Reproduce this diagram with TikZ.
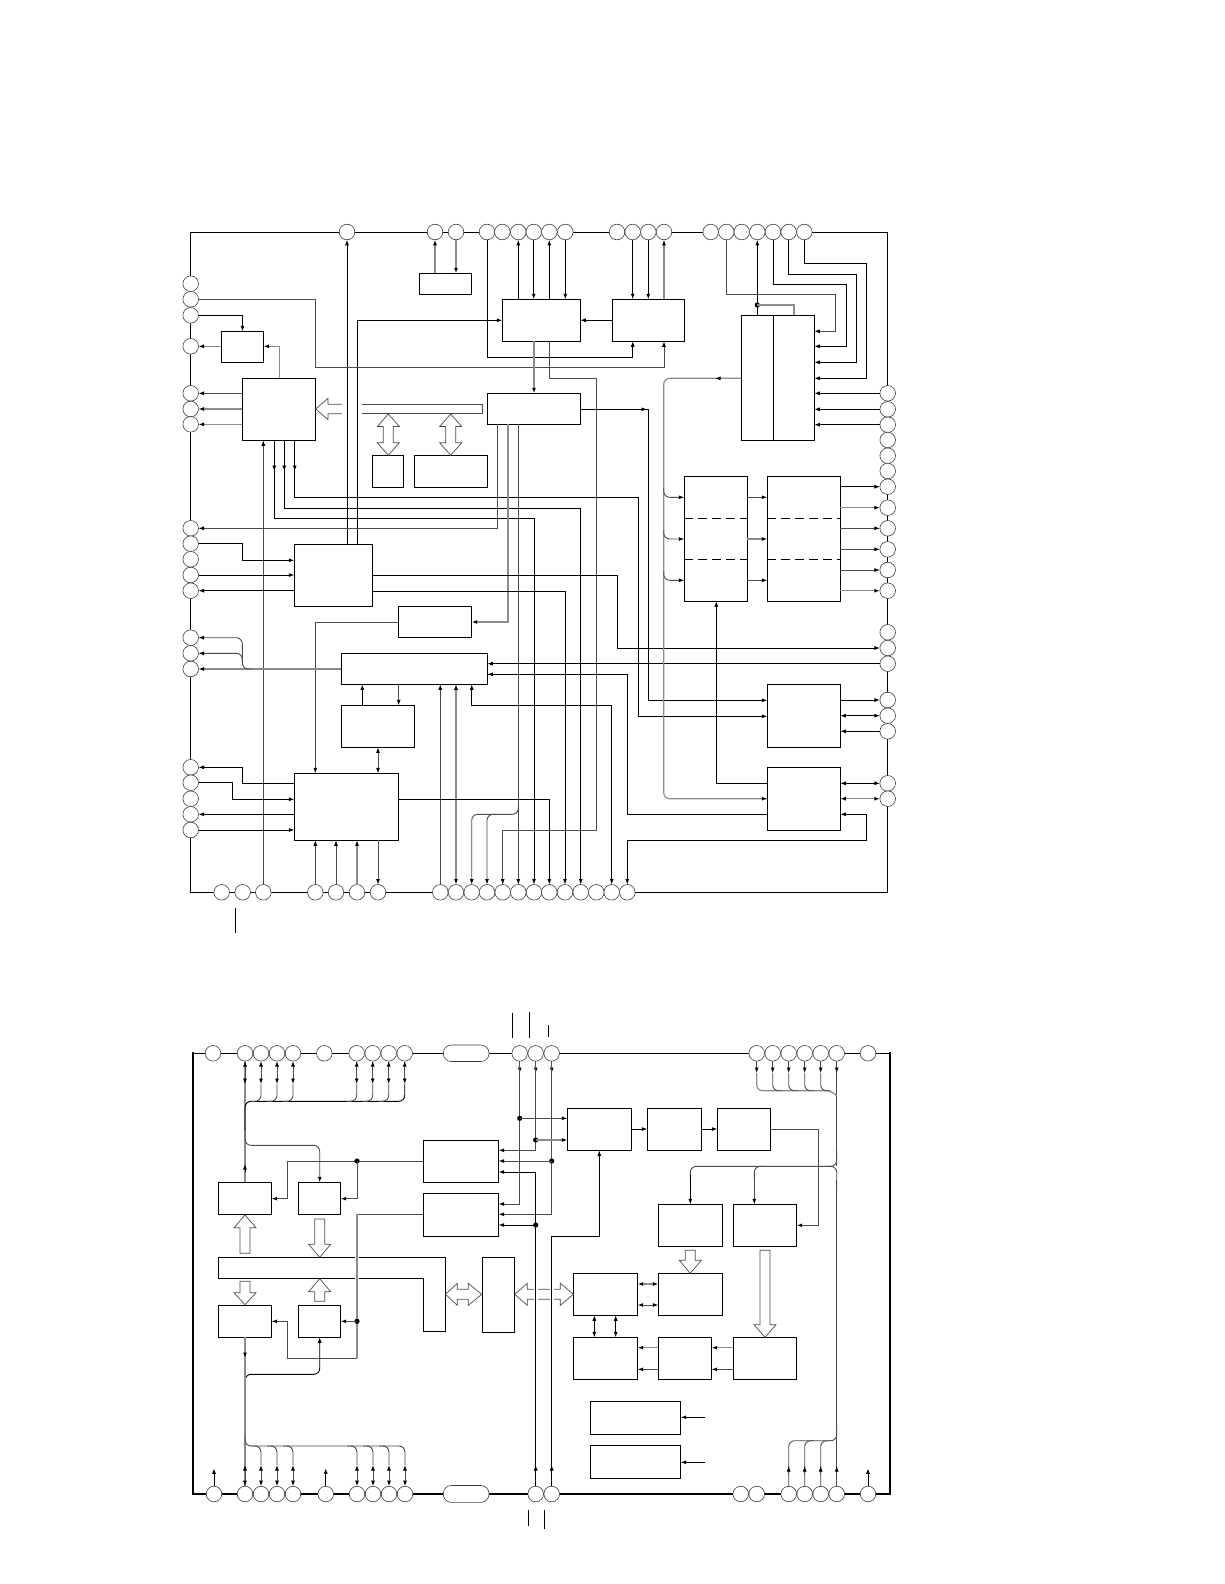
\documentclass[tikz,border=0pt]{standalone}
\usetikzlibrary{arrows.meta}
\tikzset{
  frm/.style={draw=black,line width=1pt},
  frmb/.style={draw=black,line width=2.2pt},
  pinc/.style={circle,draw=black!75,line width=0.6pt,fill=white,minimum size=15.6pt,inner sep=0pt,outer sep=0pt},
  capsule/.style={rounded corners=8pt,draw=black!75,line width=0.6pt,fill=white},
  box/.style={rectangle,draw=black,line width=0.95pt,fill=white,inner sep=0pt,outer sep=0pt},
  w/.style={draw=black,line width=0.9pt},
  d/.style={draw=black!70,line width=0.9pt},
  g/.style={draw=black!45,line width=1.2pt},
  a/.style={-{Latex[length=5.5pt,width=4pt,color=black]}},
  aa/.style={{Latex[length=5.5pt,width=4pt,color=black]}-{Latex[length=5.5pt,width=4pt,color=black]}},
  rc/.style={rounded corners=6pt},
  blk/.style={draw=black!70,line width=0.7pt,fill=white},
  halo/.style={draw=white,line width=3.6pt},
}
\newcommand{\bx}[5]{%
  \pgfmathsetmacro{\bxw}{#4-#2}\pgfmathsetmacro{\bxh}{#5-#3}%
  \pgfmathsetmacro{\bxx}{(#4+#2)/2}\pgfmathsetmacro{\bxy}{(#5+#3)/2}%
  \node[box,minimum width=\bxw pt,minimum height=\bxh pt] (#1) at (\bxx,\bxy) {};}
% vertical block arrow: x, tail y, head-base y, tip y
\newcommand{\vblk}[4]{\draw[blk] ({#1-5},#2) -- ({#1-5},#3) -- ({#1-11},#3) -- (#1,#4) -- ({#1+11},#3) -- ({#1+5},#3) -- ({#1+5},#2) -- cycle;}
% vertical double block arrow: x, tip1 y, tip2 y
\newcommand{\vdbl}[3]{\draw[blk] (#1,#2) -- ({#1+11},{#2+12.5}) -- ({#1+5},{#2+12.5}) -- ({#1+5},{#3-12.5}) -- ({#1+11},{#3-12.5}) -- (#1,#3) -- ({#1-11},{#3-12.5}) -- ({#1-5},{#3-12.5}) -- ({#1-5},{#2+12.5}) -- ({#1-11},{#2+12.5}) -- cycle;}
\newcommand{\dotj}[2]{\fill[black] (#1,#2) circle (2.6pt);}
\begin{document}
\begin{tikzpicture}[x=1pt,y=-1pt]
\useasboundingbox (0,0) rectangle (1224,1584);
\fill[white] (0,0) rectangle (1224,1584);

%%%%%%%%%% UPPER DIAGRAM %%%%%%%%%%
\draw[frm] (190.7,232) rectangle (887.7,892.3);
\foreach \n/\x in {1/347,2/435,3/456,4/487,5/502.3,6/518.3,7/533.7,8/549.3,9/565.3,10/617,11/632.7,12/648.3,13/664,14/710.7,15/726.3,16/741.7,17/757.3,18/773,19/788.7,20/804.3}
  \node[pinc] (t\n) at (\x,232) {};
\foreach \n/\y in {1/283.7,2/299.3,3/315.3,4/346.3,5/393.3,6/409,7/424.3,8/528.3,9/543.7,10/559.3,11/575,12/590.7,13/637.7,14/653.3,15/669,16/767.3,17/782.7,18/798.7,19/814.3,20/830}
  \node[pinc] (l\n) at (190.7,\y) {};
\foreach \n/\y in {1/393.3,2/409.3,3/424.7,4/440,5/455.7,6/471,7/486.7,8/507.7,9/528.3,10/549.3,11/570,12/590.7,13/632.3,14/648,15/663.7,16/700,17/715.7,18/731.3,19/783.3,20/798.7}
  \node[pinc] (r\n) at (887.7,\y) {};
\foreach \n/\x in {1/221.7,2/242.7,3/263.3,4/315.3,5/336,6/357,7/378,8/440.3,9/456,10/471.7,11/487,12/502.7,13/518.3,14/534,15/549.3,16/565,17/580.7,18/596.3,19/611.7,20/627.3}
  \node[pinc] (b\n) at (\x,892.3) {};

\bx{A}{419.3}{273.3}{471.7}{294.3}
\bx{B}{502.3}{299.3}{580.3}{341.3}
\bx{C}{612.3}{299.3}{684.3}{341.3}
\bx{D}{741.3}{315.3}{814.3}{440.3}
\draw[w] (D.north -| 773.3,0) -- (D.south -| 773.3,0);
\bx{E}{221.3}{331.3}{263.7}{362.7}
\bx{F}{242.3}{378.3}{315.7}{440.3}
\bx{G}{487.3}{393.3}{580.3}{424.3}
\bx{H}{372.3}{455.3}{403.3}{487.3}
\bx{I}{414.3}{455.3}{487.3}{487.3}
\bx{K}{294.3}{544.3}{372.3}{606.3}
\bx{L}{398.3}{606.3}{471.7}{637.3}
\bx{M}{341.3}{653.3}{487.3}{684.3}
\bx{N}{341.3}{705.3}{414.3}{747.3}
\bx{O}{294.3}{773.3}{398.3}{840.3}
\bx{P}{684.3}{476.3}{747.3}{601.3}
\bx{Q}{767.3}{476.3}{840.3}{601.3}
\bx{R}{767.3}{684.3}{840.3}{747.3}
\bx{S}{767.3}{767.3}{840.3}{830.3}
\draw[w,dash pattern=on 9pt off 5pt] (P.west |- 0,518.3) -- (P.east |- 0,518.3);
\draw[w,dash pattern=on 9pt off 5pt] (P.west |- 0,559.3) -- (P.east |- 0,559.3);
\draw[w,dash pattern=on 9pt off 5pt] (Q.west |- 0,518.3) -- (Q.east |- 0,518.3);
\draw[w,dash pattern=on 9pt off 5pt] (Q.west |- 0,559.3) -- (Q.east |- 0,559.3);

% bus and block arrows
\draw[blk] (362,404.3) -- (482.7,404.3) -- (482.7,413.7) -- (362,413.7);
\draw[blk] (342,404.3) -- (328,404.3) -- (328,398.3) -- (315.7,409) -- (328,419.7) -- (328,413.7) -- (342,413.7);
\vdbl{388.3}{414}{455.3}
\vdbl{450.7}{414}{455.3}

% top pins
\draw[w,a] (K.north -| t1) -- (t1);
\draw[w,a] (K.north -| 357.3,0) |- (B.west |- 0,320.3);
\draw[g,a] (A.north -| t2) -- (t2);
\draw[g,a] (t3) -- (A.north -| t3);
\draw[w,a] (t4) |- (632.7,357) -- (C.south -| t11);
\draw[d,a] (l2) -| (315.7,367.3) -| (C.south -| t13);
\draw[w,a] (B.north -| t6) -- (t6);
\draw[w,a] (t7) -- (B.north -| t7);
\draw[w,a] (B.north -| t8) -- (t8);
\draw[w,a] (t9) -- (B.north -| t9);
\draw[w,a] (t11) -- (C.north -| t11);
\draw[w,a] (t12) -- (C.north -| t12);
\draw[g,a] (C.north -| t13) -- (t13);
\draw[w,a] (C.west |- 0,320.3) -- (B.east |- 0,320.3);
\draw[g,a] (B.south -| 534,0) -- (G.north -| 534,0);
\draw[d] (B.south -| t8) |- (596.7,378.3) |- (502.7,830.3);
\draw[d,a] (502.7,830.3) -- (b12);
% left block E, F
\draw[w,a] (l3) -| (E.north);
\draw[g,a] (E.west |- l4) -- (l4);
\draw[g,a] (F.north -| 279.3,0) |- (E.east |- l4);
\draw[d,a] (F.west |- l5) -- (l5);
\draw[g,a] (F.west |- l6) -- (l6);
\draw[g,a] (F.west |- l7) -- (l7);
\draw[d,a] (b3) -- (F.south -| b3);
\draw[w,a] (F.south -| 274.3,0) |- (b14 |- 0,518.3) -- (b14);
\draw[w,a] (F.south -| 284.3,0) |- (b17 |- 0,508.3) -- (b17);
\draw[w,a] (F.south -| 294.7,0) |- (638.7,497.3) |- (R.west |- 0,716.3);
\draw[w,a] (274.3,464) -- (274.3,471);
\draw[w,a] (284.3,464) -- (284.3,471);
\draw[w,a] (294.7,464) -- (294.7,471);
% G
\draw[w,a] (G.east |- 0,409.3) -| (648.7,700.3) -- (R.west |- 0,700.3);
\draw[w,a] (638,409.3) -- (647,409.3);
\draw[d,a] (G.south -| 497.7,0) |- (l8);
\draw[g,a] (G.south -| 508,0) |- (L.east |- 0,622);
\draw[d,a] (G.south -| b13) -- (b13);
\draw[d,a,rc] (518.3,806) -- (518.3,814.3) -- (b10 |- 0,814.3) -- (b10);
\draw[d,a,rc] (495,814.3) -- (b11 |- 0,814.3) -- (b11);
\draw[d,a] (L.west |- 0,622) -| (O.north -| 315.3,0);
% K
\draw[w,a] (l9) -| (242.3,560.3) -- (K.west |- 0,560.3);
\draw[w,a] (l11) -- (K.west |- l11);
\draw[w,a] (K.west |- l12) -- (l12);
\draw[w,a] (K.east |- 0,575.3) -| (617.7,648) -- (r14);
\draw[w,a] (K.east |- 0,591.3) -| (b16);
% M
\draw[w,a] (r15) -- (M.east |- r15);
\draw[w] (M.east |- 0,674.3) -| (627.7,814.3) -- (S.west |- 0,814.3);
\draw[w,a] (M.east |- 0,674.3) ++(12,0) -- (M.east |- 0,674.3);
\draw[g,a] (M.west |- l15) -- (l15);
\draw[d,a,rc] (252,669) -- (242.3,669) -- (242.3,653.3) -- (l14);
\draw[d,a,rc] (242.3,660) -- (242.3,637.7) -- (l13);
\draw[w,a] (N.north -| 362.3,0) -- (M.south -| 362.3,0);
\draw[d,a] (M.south -| 398.7,0) -- (N.north -| 398.7,0);
\draw[d,aa] (N.south -| 378,0) -- (O.north -| 378,0);
\draw[d,a] (b8) -- (M.south -| b8);
\draw[g,aa] (b9) -- (M.south -| b9);
\draw[w,a] (b19 |- 0,705.3) -| (M.south -| b10);
\draw[w,a] (b19 |- 0,705.3) -- (b19);
% O
\draw[w,a] (O.east |- 0,799.3) -| (b15);
\draw[w,a] (O.west |- 0,783.3) -| (242.3,767.3) -- (l16);
\draw[w,a] (l17) -| (232.3,799.3) -- (O.west |- 0,799.3);
\draw[w,a] (O.west |- l19) -- (l19);
\draw[w,a] (l20) -- (O.west |- l20);
\draw[d,a] (b4) -- (O.south -| b4);
\draw[d,a] (b5) -- (O.south -| b5);
\draw[g,a] (b6) -- (O.south -| b6);
\draw[d,a] (O.south -| b7) -- (b7);
% right block D
\draw[d,a] (t15) |- (835.7,294.3) |- (D.east |- 0,331.3);
\draw[w,a] (D.north -| t17) -- (t17);
\dotj{757.3}{305}
\draw[g] (757.3,305) -| (D.north -| 794,0);
\draw[w,a] (t18) |- (846.3,284.3) |- (D.east |- 0,346.3);
\draw[w,a] (t19) |- (856.3,274.3) |- (D.east |- 0,362.3);
\draw[w,a] (t20) |- (866.3,263.3) |- (D.east |- 0,378.3);
\draw[w,a] (r1) -- (D.east |- r1);
\draw[w,a] (r2) -- (D.east |- r2);
\draw[w,a] (r3) -- (D.east |- r3);
% distribution line
\draw[g,rc] (D.west |- 0,378.3) -- (663.7,378.3) -- (663.7,798.7) -- (S.west |- 0,798.7);
\draw[g,a] (723,378.3) -- (715,378.3);
\draw[g,a] (756,798.7) -- (S.west |- 0,798.7);
\draw[d,a,rc] (663.7,488) -- (663.7,497.3) -- (P.west |- 0,497.3);
\draw[d,a,rc] (663.7,530) -- (663.7,539) -- (P.west |- 0,539);
\draw[d,a,rc] (663.7,571) -- (663.7,580.3) -- (P.west |- 0,580.3);
\draw[d,a] (P.east |- 0,497.3) -- (Q.west |- 0,497.3);
\draw[g,a] (P.east |- 0,539) -- (Q.west |- 0,539);
\draw[d,a] (P.east |- 0,580.3) -- (Q.west |- 0,580.3);
\draw[w,a] (Q.east |- r7) -- (r7);
\draw[g,a] (Q.east |- r8) -- (r8);
\draw[d,a] (Q.east |- r9) -- (r9);
\draw[d,a] (Q.east |- r10) -- (r10);
\draw[d,a] (Q.east |- r11) -- (r11);
\draw[g,a] (Q.east |- r12) -- (r12);
\draw[w,a] (R.east |- r16) -- (r16);
\draw[w,aa] (R.east |- r17) -- (r17);
\draw[w,a] (r18) -- (R.east |- r18);
\draw[w,aa] (S.east |- r19) -- (r19);
\draw[g,aa] (S.east |- r20) -- (r20);
\draw[w,aa] (b20) |- (866.3,840.3) |- (S.east |- 0,814.3);
\draw[w,a] (S.west |- r19) -| (P.south -| 716.3,0);
\draw[w] (235.3,908.3) -- (235.3,932.7);

%%%%%%%%%% LOWER DIAGRAM %%%%%%%%%%
\draw[frm] (193.3,1053.3) -- (890,1053.3);
\draw[frmb] (193.3,1052.3) -- (193.3,1494) -- (890,1494) -- (890,1052.3);
\foreach \n/\x in {1/213,2/245,3/261,4/277,5/293,6/324.3,7/356.7,8/372.7,9/388.7,10/404.7,11/519.7,12/535.7,13/551.7,14/756.7,15/772.7,16/788.7,17/804.7,18/820.7,19/836.7,20/868}
  \node[pinc] (u\n) at (\x,1053.3) {};
\foreach \n/\x in {1/214,2/245,3/261,4/277,5/293,6/325.7,7/357,8/373,9/389,10/405,11/535.7,12/551.7,13/740.7,14/756.7,15/788.7,16/804.7,17/820.7,18/836.7,19/868}
  \node[pinc] (v\n) at (\x,1494) {};
\draw[capsule] (443.3,1045) rectangle (489,1061.5);
\draw[capsule] (443.3,1485.5) rectangle (489,1502.3);

\bx{ba}{218.3}{1182.3}{271.7}{1214.3}
\bx{bb}{298.3}{1182.3}{340.7}{1214.3}
\bx{bc}{423.3}{1140.3}{498.7}{1182.3}
\bx{bd}{423.3}{1193.3}{498.7}{1236.3}
\bx{bf}{482.3}{1257.3}{514.7}{1332.3}
\bx{bg}{567.3}{1108.3}{631.7}{1150.3}
\bx{bh}{647.3}{1108.3}{701.7}{1150.3}
\bx{bi}{717.3}{1108.3}{770.7}{1150.3}
\bx{bj}{658.3}{1204.3}{722.7}{1246.3}
\bx{bk}{733.3}{1204.3}{796.7}{1246.3}
\bx{bl}{573.3}{1273.3}{637.7}{1315.3}
\bx{bm}{658.3}{1273.3}{722.7}{1315.3}
\bx{bn}{573.3}{1337.3}{637.7}{1379.3}
\bx{bo}{658.3}{1337.3}{711.7}{1379.3}
\bx{bp}{733.3}{1337.3}{796.7}{1379.3}
\bx{bq}{590.3}{1401.3}{680.7}{1434.3}
\bx{br}{590.3}{1445.3}{680.7}{1478.3}
\bx{bs}{218.3}{1305.3}{271.7}{1337.3}
\bx{bt}{298.3}{1305.3}{340.7}{1337.3}
\draw[w,fill=white] (218.3,1257.3) -- (445.7,1257.3) -- (445.7,1331.3) -- (423.3,1331.3) -- (423.3,1278.3) -- (218.3,1278.3) -- cycle;

% block arrows
\vblk{245}{1253.3}{1227.7}{1215}
\vblk{319.7}{1219}{1244.3}{1257.3}
\vblk{245}{1281.3}{1292.7}{1304.7}
\vblk{319.7}{1301.3}{1291.7}{1278.7}
\vblk{690.3}{1250.3}{1260.3}{1273.3}
\vblk{765}{1250.3}{1324.7}{1337.3}
\draw[blk] (445.5,1294.3) -- (457.3,1283.3) -- (457.3,1289.3) -- (468.3,1289.3) -- (468.3,1283.3) -- (481.7,1294.3) -- (468.3,1305.3) -- (468.3,1299.3) -- (457.3,1299.3) -- (457.3,1305.3) -- cycle;
\draw[blk] (514.7,1294.3) -- (527.3,1283.3) -- (527.3,1289.3) -- (560.3,1289.3) -- (560.3,1283.3) -- (573.3,1294.3) -- (560.3,1305.3) -- (560.3,1299.3) -- (527.3,1299.3) -- (527.3,1305.3) -- cycle;
\draw[halo] (u12 |- 0,1285) -- (u12 |- 0,1303);
\draw[halo] (u13 |- 0,1285) -- (u13 |- 0,1303);
\draw[halo] (357,1252) -- (357,1284);

% upper-left bidirectional pins and bus
\draw[g] (u2 |- ba.north) -- (u2);
\foreach \n in {2,3,4,5,7,8,9,10} {
  \draw[d,aa] (u\n) -- (u\n |- 0,1084);
}
\draw[a,w] (245,1172) -- (245,1164);
\draw[w,rc] (245,1130) -- (245,1101.3) -- (404.7,1101.3) -- (404.7,1084);
\foreach \n in {3,4,5,7,8,9} {
  \draw[d,rc] (u\n |- 0,1084) -- (u\n |- 0,1101.3) -- +(-10,0);
}
\draw[d,a,rc] (245,1125) -- (245,1145.3) -- (319.7,1145.3) -- (bb.north -| 319.7,0);

% right column pins of the centre
\draw[d,a] (u11) -- (519.7,1073);
\draw[d,a] (u12) -- (535.7,1073);
\draw[d,a] (u13) -- (551.7,1073);
\draw[d,a] (u11) |- (bd.east |- 0,1204);
\draw[d,a] (u12) |- (bc.east |- 0,1150.3);
\draw[d,a] (u13) |- (bd.east |- 0,1214.3);
\dotj{519.7}{1118.3}\dotj{535.7}{1140}\dotj{551.7}{1161}
\draw[d,a] (519.7,1118.3) -- (bg.west |- 0,1118.3);
\draw[g,a] (535.7,1140) -- (bg.west |- 0,1140);
\draw[d,a] (551.7,1161) -- (bc.east |- 0,1161);
\draw[w,a] (535.7,1172) -- (bc.east |- 0,1172);
\draw[w] (535.7,1172) -- (v11);
\draw[w,a] (v11) ++(0,-21) -- ++(0,-8);
\dotj{535.7}{1225}
\draw[w,a] (535.7,1225) -- (bd.east |- 0,1225);
\draw[w,a] (v12) |- (599.3,1236.3) -- (bg.south -| 599.3,0);
\draw[w,a] (v12) ++(0,-21) -- ++(0,-8);
% c west, a/b inputs
\draw[d,a] (bc.west |- 0,1161) -| (287.7,1198.7) -- (ba.east |- 0,1198.7);
\dotj{357}{1161}
\draw[d,a] (357,1161) |- (bb.east |- 0,1198.7);
% d west, s/t inputs
\draw[d] (bd.west |- 0,1214.3) -- (357,1214.3);
\draw[g] (357,1214.3) -- (357,1358.3);
\draw[d,a] (357,1358.3) -| (287.7,1321.3) -- (bs.east |- 0,1321.3);
\dotj{357}{1321.3}
\draw[d,a] (357,1321.3) -- (bt.east |- 0,1321.3);
\draw[w,a,rc] (245,1385) -- (245,1374.3) -- (319.7,1374.3) -- (bt.south -| 319.7,0);
% lower bus
\draw[g] (bs.south -| 245,0) -- (v2);
\draw[g,a] (245,1350) -- (245,1358);
\foreach \n in {2,3,4,5,7,8,9,10} {
  \draw[d,aa] (v\n |- 0,1465) -- (v\n);
}
\draw[d,rc] (245,1435) -- (245,1446) -- (405,1446) -- (405,1465);
\foreach \n in {3,4,5,7,8,9} {
  \draw[d,rc] (v\n |- 0,1465) -- (v\n |- 0,1446) -- +(-10,0);
}
% chain of boxes
\draw[w,a] (bg.east |- 0,1129) -- (bh.west |- 0,1129);
\draw[w,a] (bh.east |- 0,1129) -- (bi.west |- 0,1129);
\draw[d,a] (bi.east |- 0,1129) -| (818.3,1225.3) -- (bk.east |- 0,1225.3);
\draw[g,aa] (bl.east |- 0,1284) -- (bm.west |- 0,1284);
\draw[d,aa] (bl.east |- 0,1305) -- (bm.west |- 0,1305);
\draw[w,aa] (bl.south -| 594.3,0) -- (bn.north -| 594.3,0);
\draw[w,aa] (bl.south -| 615.7,0) -- (bn.north -| 615.7,0);
\draw[g,a] (bo.west |- 0,1347.7) -- (bn.east |- 0,1347.7);
\draw[d,a] (bo.west |- 0,1369.3) -- (bn.east |- 0,1369.3);
\draw[g,a] (bp.west |- 0,1347.7) -- (bo.east |- 0,1347.7);
\draw[d,a] (bp.west |- 0,1369.3) -- (bo.east |- 0,1369.3);
\coordinate (qin) at (705,1417.3);
\coordinate (rin) at (705,1462.3);
\draw[w,a] (qin) -- (bq.east |- qin);
\draw[w,a] (rin) -- (br.east |- rin);
% upper-right pins
\draw[d] (u19) -- (836.7,1166);
\foreach \n in {14,15,16,17,18,19} {
  \draw[d,a] (u\n) -- (u\n |- 0,1073);
}
\draw[g,rc] (756.7,1073) -- (756.7,1090.7) -- (832,1090.7) -- (836.7,1096);
\foreach \n in {15,16,17,18} {
  \draw[d,rc] (u\n |- 0,1073) -- (u\n |- 0,1090.7) -- +(10,0);
}
\draw[d,rc] (836.7,1150) -- (836.7,1166.3) -- (690.3,1166.3) -- (690.3,1180);
\draw[w,a] (690.3,1175) -- (bj.north -| 690.3,0);
\draw[d,rc] (765,1166.3) -- (754.3,1166.3) -- (754.3,1180);
\draw[d,a] (754.3,1175) -- (bk.north -| 754.3,0);
\draw[d,rc] (825,1166.3) -- (836.7,1166.3) -- (836.7,1190);
% lower-right pins
\draw[d] (836.7,1180) -- (v18);
\draw[d,a] (v18) ++(0,-20) -- ++(0,-8);
\draw[d,rc] (836.7,1425) -- (836.7,1440.7) -- (788.7,1440.7) -- (v15);
\draw[d,rc] (814,1440.7) -- (804.7,1440.7) -- (v16);
\draw[d,rc] (830,1440.7) -- (820.7,1440.7) -- (v17);
\foreach \n in {15,16,17} {\draw[d,a] (v\n) ++(0,-20) -- ++(0,-8);}
% stubs
\coordinate (st1) at (214,1468.3);
\coordinate (st2) at (325.7,1468.3);
\coordinate (st3) at (868,1468.3);
\draw[w,a] (v1) -- (st1);
\draw[w,a] (v6) -- (st2);
\draw[w,a] (v19) -- (st3);
% ticks
\draw[w] (512.3,1013.3) -- (512.3,1037.7);
\draw[w] (529.7,1012.3) -- (529.7,1037.7);
\draw[w] (548.7,1025) -- (548.7,1036.7);
\draw[w] (528.7,1510) -- (528.7,1525.7);
\draw[w] (544.3,1510) -- (544.3,1528.7);
\end{tikzpicture}
\end{document}
